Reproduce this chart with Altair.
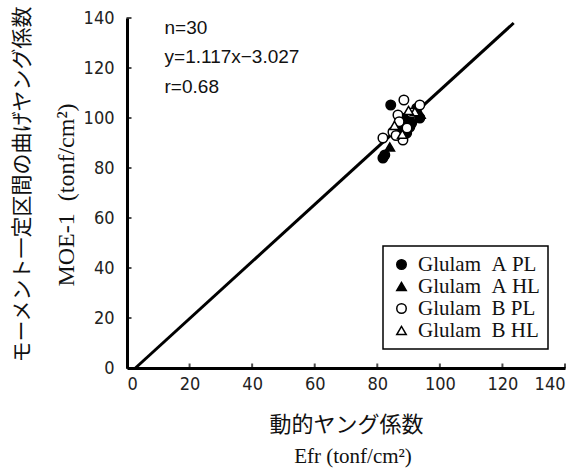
import altair as alt
import pandas as pd

# ---- data ----
grp_a_pl_x = [84.3, 92.6, 93.6, 88.2, 89.0, 90.4, 89.4, 87.0, 82.4, 81.8, 91.0, 88.6]
grp_a_pl_y = [105.2, 103.9, 100.0, 98.4, 100.0, 96.4, 94.0, 96.0, 85.2, 84.0, 98.0, 97.4]
grp_a_hl_x = [84.0, 93.8, 87.5, 90.0]
grp_a_hl_y = [88.4, 101.5, 95.0, 99.0]
grp_b_pl_x = [88.5, 93.6, 86.6, 85.0, 81.8, 88.2, 91.0, 87.0, 89.5, 86.0]
grp_b_pl_y = [107.2, 105.2, 101.2, 94.4, 92.0, 91.2, 102.0, 98.5, 96.0, 93.0]
grp_b_hl_x = [92.0, 85.5, 90.0, 88.0]
grp_b_hl_y = [102.5, 97.0, 103.0, 93.5]

groups = ["Glulam\u00a0\u00a0A\u00a0PL", "Glulam\u00a0\u00a0A\u00a0HL",
          "Glulam\u00a0\u00a0B\u00a0PL", "Glulam\u00a0\u00a0B\u00a0HL"]
shapes = ["circle", "triangle-up", "circle", "triangle-up"]
fills = ["black", "black", "white", "white"]
strokes = ["black", "black", "black", "black"]

line_x = [2.7, 123.6]
line_y = [0.0, 138.0]

ann_text = ["n=30", "y=1.117x\u22123.027", "r=0.68"]
ann_x = [12.0, 12.0, 12.0]
ann_y = [136.0, 124.4, 112.4]

tick_vals = [0, 20, 40, 60, 80, 100, 120, 140]

rows = []
for g, xs, ys in zip(groups, [grp_a_pl_x, grp_a_hl_x, grp_b_pl_x, grp_b_hl_x],
                     [grp_a_pl_y, grp_a_hl_y, grp_b_pl_y, grp_b_hl_y]):
    for a, b in zip(xs, ys):
        rows.append({"x": a, "y": b, "group": g})
pts = pd.DataFrame(rows)
line_df = pd.DataFrame({"x": line_x, "y": line_y})
ann_df = pd.DataFrame({"x": ann_x, "y": ann_y, "t": ann_text})
ticks_df = pd.DataFrame({"v": tick_vals, "z": [0] * len(tick_vals)})

label_font = "Liberation Sans Narrow, DejaVu Sans Condensed, Liberation Sans, sans-serif"
jp_font = "Noto Sans CJK JP"
serif = "Liberation Serif"

xscale = alt.Scale(domain=[0, 140], nice=False, zero=False)
yscale = alt.Scale(domain=[0, 140], nice=False, zero=False)

xaxis = alt.Axis(values=tick_vals, ticks=False, grid=False, domainWidth=3, domainColor="black",
                 labelFont=label_font, labelFontSize=18, labelColor="#222", labelPadding=7,
                 title="動的ヤング係数", titleFont=jp_font, titleFontSize=22, titleFontWeight="normal",
                 titleColor="#111", titleX=219, titleY=56, titleBaseline="middle")
yaxis = alt.Axis(values=tick_vals, ticks=False, grid=False, domainWidth=3, domainColor="black",
                 labelFont=label_font, labelFontSize=18, labelColor="#222", labelPadding=13,
                 title="モーメント一定区間の曲げヤング係数", titleFont=jp_font, titleFontSize=21,
                 titleFontWeight="normal", titleColor="#111", titleX=-105, titleY=166,
                 titleBaseline="middle", titleAngle=270)

leg = alt.Legend(title=None, symbolStrokeColor="black", symbolStrokeWidth=1.5)

points = alt.Chart(pts).mark_point(filled=False, size=90, strokeWidth=1.5, opacity=1).encode(
    x=alt.X("x:Q", scale=xscale, axis=xaxis),
    y=alt.Y("y:Q", scale=yscale, axis=yaxis),
    shape=alt.Shape("group:N", scale=alt.Scale(domain=groups, range=shapes), legend=leg),
    fill=alt.Fill("group:N", scale=alt.Scale(domain=groups, range=fills), legend=leg),
    stroke=alt.Stroke("group:N", scale=alt.Scale(domain=groups, range=strokes), legend=leg),
)

line = alt.Chart(line_df).mark_line(color="black", strokeWidth=3).encode(
    x=alt.X("x:Q", scale=xscale), y=alt.Y("y:Q", scale=yscale))

ann = alt.Chart(ann_df).mark_text(align="left", baseline="middle", font="Liberation Sans",
                                  fontSize=19, color="#111").encode(
    x=alt.X("x:Q", scale=xscale), y=alt.Y("y:Q", scale=yscale), text="t:N")

xticks = alt.Chart(ticks_df).mark_tick(orient="vertical", size=5, thickness=2, color="black", yOffset=-2).encode(
    x=alt.X("v:Q", scale=xscale), y=alt.Y("z:Q", scale=yscale))
yticks = alt.Chart(ticks_df).mark_tick(orient="horizontal", size=5, thickness=2, color="black", xOffset=2).encode(
    y=alt.Y("v:Q", scale=yscale), x=alt.X("z:Q", scale=xscale))

eng_df = pd.DataFrame({"t": ["MOE-1\u00a0 (tonf/cm²)"]})
eng_y = alt.Chart(eng_df).mark_text(font=serif, fontSize=24, fontWeight="normal", angle=270,
                                    align="center", baseline="middle", color="#111").encode(
    text="t:N", x=alt.value(-60), y=alt.value(177))
eng_df2 = pd.DataFrame({"t": ["Efr (tonf/cm²)"]})
eng_x = alt.Chart(eng_df2).mark_text(font=serif, fontSize=21, align="center", baseline="middle",
                                     color="#111").encode(
    text="t:N", x=alt.value(226), y=alt.value(439))

chart = alt.layer(line, points, ann, xticks, yticks, eng_y, eng_x).properties(
    width=438, height=350,
    autosize=alt.AutoSizeParams(type="none"),
    padding={"left": 127, "top": 18, "right": 14, "bottom": 102},
).configure_view(stroke=None).configure_legend(
    orient="none", legendX=256, legendY=228, padding=8, strokeColor="black", strokeWidth=1.5,
    fillColor="white", labelFont=serif, labelFontSize=21, labelColor="#111", symbolSize=90,
    symbolStrokeColor="black", symbolStrokeWidth=1.5, rowPadding=0, labelOffset=6,
    cornerRadius=0, labelLimit=300,
)

chart.save("out.html", embed_options={"renderer": "svg", "actions": False})
